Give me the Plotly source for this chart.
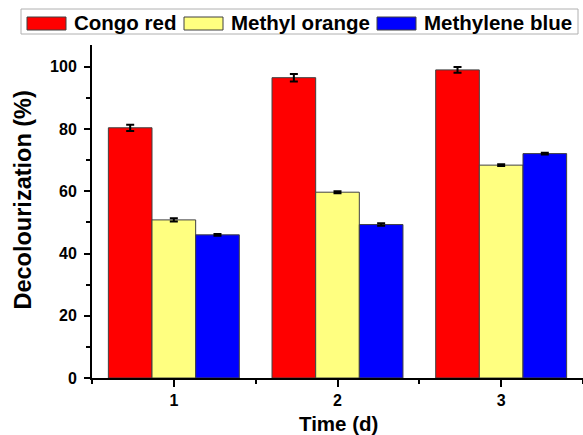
import plotly.graph_objects as go

# ---- data ----
days = [1, 2, 3]
series_names = ["Congo red", "Methyl orange", "Methylene blue"]
congo_red = [80.4, 96.5, 99.0]
methyl_orange = [50.8, 59.7, 68.4]
methylene_blue = [46.0, 49.3, 72.1]
congo_red_err = [1.0, 1.2, 0.9]
methyl_orange_err = [0.5, 0.3, 0.3]
methylene_blue_err = [0.3, 0.4, 0.3]
y_tick_vals = [0, 20, 40, 60, 80, 100]
x_tick_vals = [1, 2, 3]

colors = ["#FF0000", "#FFFF80", "#0000FF"]
values = [congo_red, methyl_orange, methylene_blue]
errors = [congo_red_err, methyl_orange_err, methylene_blue_err]

FONT = "Arial, Liberation Sans, sans-serif"

W, H = 583, 435
ML, MR, MT, MB = 92, 0, 45, 57
PW = W - ML - MR
PH = H - MT - MB


def px(x):
    return (x - ML) / PW


def py(y):
    return (H - MB - y) / PH


fig = go.Figure()
for name, vals, errs, col in zip(series_names, values, errors, colors):
    fig.add_trace(go.Bar(
        x=days, y=vals, name=name, showlegend=False,
        marker=dict(color=col, line=dict(color="#404040", width=1)),
        error_y=dict(type="data", array=errs, visible=True,
                     color="black", thickness=2, width=4),
    ))

# ---- manual legend (wide swatches like the original) ----
shapes = [dict(type="rect", xref="paper", yref="paper",
               x0=px(21), x1=px(578), y0=py(9), y1=py(34),
               line=dict(color="#B0B0B0", width=1), fillcolor="white", layer="above")]
annotations = []
legend_swatch_x = [27, 184, 377]
for name, col, sx in zip(series_names, colors, legend_swatch_x):
    shapes.append(dict(type="rect", xref="paper", yref="paper",
                       x0=px(sx), x1=px(sx + 39), y0=py(17), y1=py(30),
                       line=dict(color="#404040", width=1), fillcolor=col, layer="above"))
    annotations.append(dict(xref="paper", yref="paper", x=px(sx + 45), y=py(23),
                            xanchor="left", yanchor="middle", showarrow=False,
                            text="<b>%s</b>" % name,
                            font=dict(family=FONT, size=20.5, color="black")))

# y-axis title
annotations.append(dict(xref="paper", yref="paper", x=px(22.5), y=py(200),
                        xanchor="center", yanchor="middle", showarrow=False, textangle=-90,
                        text="<b>Decolourization (%)</b>",
                        font=dict(family=FONT, size=23.5, color="black")))
# x-axis title
annotations.append(dict(xref="paper", yref="paper", x=px(338), y=py(423),
                        xanchor="center", yanchor="middle", showarrow=False,
                        text="<b>Time (d)</b>",
                        font=dict(family=FONT, size=20.5, color="black")))

fig.update_layout(
    width=W, height=H,
    margin=dict(l=ML, r=MR, t=MT, b=MB),
    paper_bgcolor="white", plot_bgcolor="white",
    barmode="group", bargap=0.2, bargroupgap=0,
    font=dict(family=FONT, color="black"),
    shapes=shapes, annotations=annotations,
    xaxis=dict(range=[0.5, 3.5], tickvals=x_tick_vals,
               ticktext=["<b>%d</b>" % v for v in x_tick_vals],
               tickfont=dict(family=FONT, size=16, color="black"),
               showline=True, linecolor="black", linewidth=2,
               ticks="outside", ticklen=7, tickwidth=2, tickcolor="black",
               minor=dict(tick0=0.5, dtick=1, ticks="outside", ticklen=4,
                          tickwidth=2, tickcolor="black"),
               showgrid=False, zeroline=False, fixedrange=True),
    yaxis=dict(range=[0, 107], tickvals=y_tick_vals,
               ticktext=["<b>%d</b>" % v for v in y_tick_vals],
               tickfont=dict(family=FONT, size=16, color="black"),
               showline=True, linecolor="black", linewidth=2,
               ticks="outside", ticklen=6, tickwidth=2, tickcolor="black",
               ticklabelstandoff=4,
               minor=dict(tick0=10, dtick=20, ticks="outside", ticklen=4,
                          tickwidth=2, tickcolor="black"),
               showgrid=False, zeroline=False, fixedrange=True),
)

fig.write_html("out.html")
